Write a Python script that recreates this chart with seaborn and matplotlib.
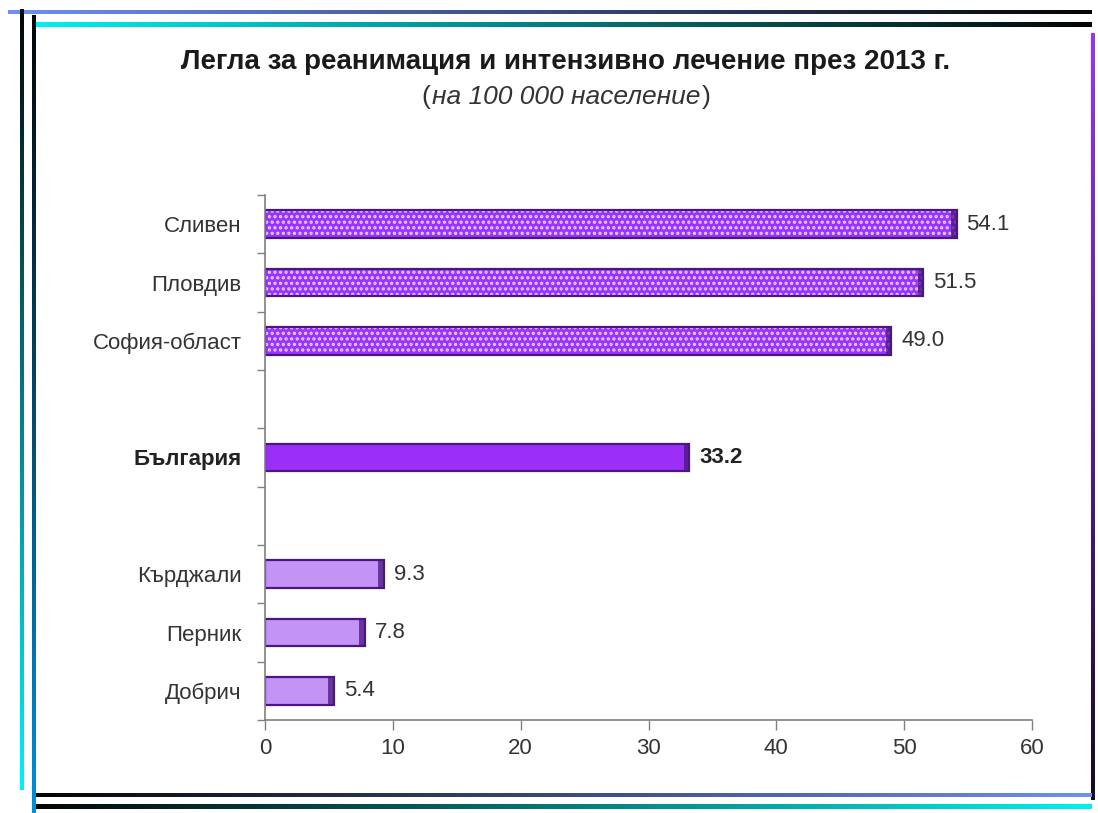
import numpy as np
import pandas as pd
import seaborn as sns
import matplotlib
matplotlib.use('Agg')
import matplotlib.pyplot as plt
from matplotlib.colors import to_rgba
from matplotlib.patches import Rectangle
from matplotlib.offsetbox import TextArea, HPacker, AnchoredOffsetbox

# data
regions = ["Сливен", "Пловдив", "София-област", "България", "Кърджали", "Перник", "Добрич"]
beds = [54.1, 51.5, 49.0, 33.2, 9.3, 7.8, 5.4]
slot_order = ["Сливен", "Пловдив", "София-област", " ", "България", "  ", "Кърджали", "Перник", "Добрич"]
x_ticks = [0, 10, 20, 30, 40, 50, 60]

title = "Легла за реанимация и интензивно лечение през 2013 г."
subtitle = "на 100 000 население"

high_color = '#9933ff'
nat_color = '#9a30f8'
low_color = '#c394f5'
edge_dark = '#4b1583'
bar_colors = {r: (high_color if v > 40 else nat_color if r == "България" else low_color)
              for r, v in zip(regions, beds)}

df = pd.DataFrame({'region': regions, 'beds': beds})

sns.set_theme(style='white')
plt.rcParams['font.family'] = ['Liberation Sans', 'DejaVu Sans']
plt.rcParams['hatch.linewidth'] = 1.6

fig = plt.figure(figsize=(10.98, 8.13), dpi=100)
ax = fig.add_axes([265 / 1098, 1 - 720 / 813, (1032 - 265) / 1098, (720 - 195) / 813])

sns.barplot(data=df, x='beds', y='region', hue='region', order=slot_order,
            palette=bar_colors, legend=False, width=0.47, ax=ax, saturation=1)

# style the bars: hatched top ones, darker right end like the original
for p in list(ax.patches):
    w = p.get_width()
    if not np.isfinite(w) or w == 0:
        continue
    slot = int(round(p.get_y() + p.get_height() / 2))
    name = slot_order[slot]
    val = beds[regions.index(name)]
    if val > 40:
        p.set_hatch('...')
        p.set_edgecolor('#e6ccff')
    p.set_linewidth(0)
    ax.add_patch(Rectangle((p.get_x(), p.get_y()), w, p.get_height(), fill=False,
                           edgecolor=edge_dark, linewidth=1.6, zorder=p.get_zorder() + 0.1))
    ax.add_patch(Rectangle((p.get_x() + w - 0.45, p.get_y()), 0.45, p.get_height(),
                           facecolor=edge_dark, edgecolor='none', alpha=0.75,
                           zorder=p.get_zorder() + 0.05))

for cont in ax.containers:
    texts = ax.bar_label(cont, fmt='%.1f', padding=7, fontsize=16, color='#333333')
    for t in texts:
        if t.get_text() == '33.2':
            t.set_fontweight('bold')
            t.set_color('#222222')

ax.set_xlim(0, 60)
ax.set_ylim(len(slot_order) - 0.5, -0.5)
ax.set_xticks(x_ticks)
ax.set_xlabel('')
ax.set_ylabel('')
ax.tick_params(axis='x', length=7, width=1, color='#808080', labelsize=16,
               labelcolor='#333333', bottom=True, direction='out', pad=6)
ax.tick_params(axis='y', which='major', length=0, labelsize=16, labelcolor='#333333', pad=17)
ax.set_yticks(np.arange(-0.5, len(slot_order), 1.0), minor=True)
ax.tick_params(axis='y', which='minor', length=6, width=1, color='#808080', left=True,
               direction='out')
for lab in ax.get_yticklabels():
    if lab.get_text() == "България":
        lab.set_fontweight('bold')
        lab.set_color('#222222')
for s in ['top', 'right']:
    ax.spines[s].set_visible(False)
for s in ['left', 'bottom']:
    ax.spines[s].set_color('#808080')
    ax.spines[s].set_linewidth(1.2)

fig.text(566 / 1098, 1 - 62 / 813, title, ha='center', va='center',
         fontsize=20, fontweight='bold', color='#1a1a1a')
sub = HPacker(children=[TextArea('(', textprops=dict(fontsize=19, color='#333333')),
                        TextArea(subtitle, textprops=dict(fontsize=19, style='italic', color='#333333')),
                        TextArea(')', textprops=dict(fontsize=19, color='#333333'))],
              pad=0, sep=1, align='baseline')
fig.add_artist(AnchoredOffsetbox(loc='center', child=sub, frameon=False,
                                 bbox_to_anchor=(566 / 1098, 1 - 97 / 813),
                                 bbox_transform=fig.transFigure, borderpad=0, pad=0))

# decorative gradient frame
deco = fig.add_axes([0, 0, 1, 1], zorder=-1)
deco.set_xlim(0, 1098)
deco.set_ylim(813, 0)
deco.axis('off')


def gradient_band(x0, x1, y0, y1, c0, c1, horizontal=True):
    a = np.array(to_rgba(c0))
    b = np.array(to_rgba(c1))
    t = np.linspace(0, 1, 256)[:, None]
    grad = a + (b - a) * t
    img = grad[None, :, :] if horizontal else grad[:, None, :]
    deco.imshow(img, extent=(x0, x1, y1, y0), aspect='auto', interpolation='bilinear')


gradient_band(8, 1092, 10, 14, '#6f8ff5', '#050505')
gradient_band(34, 1092, 22, 27, '#00f0f0', '#050505')
gradient_band(20, 24, 10, 790, '#050505', '#00f0ff', horizontal=False)
gradient_band(32, 36, 16, 813, '#050505', '#0090d8', horizontal=False)
gradient_band(1091, 1095, 34, 800, '#9933ff', '#150a25', horizontal=False)
gradient_band(36, 1092, 793, 797, '#050505', '#6f8ff5')
gradient_band(36, 1092, 804, 809, '#050505', '#00f0f0')
deco.set_xlim(0, 1098)
deco.set_ylim(813, 0)

fig.savefig('out.png', dpi=100, facecolor='white')
